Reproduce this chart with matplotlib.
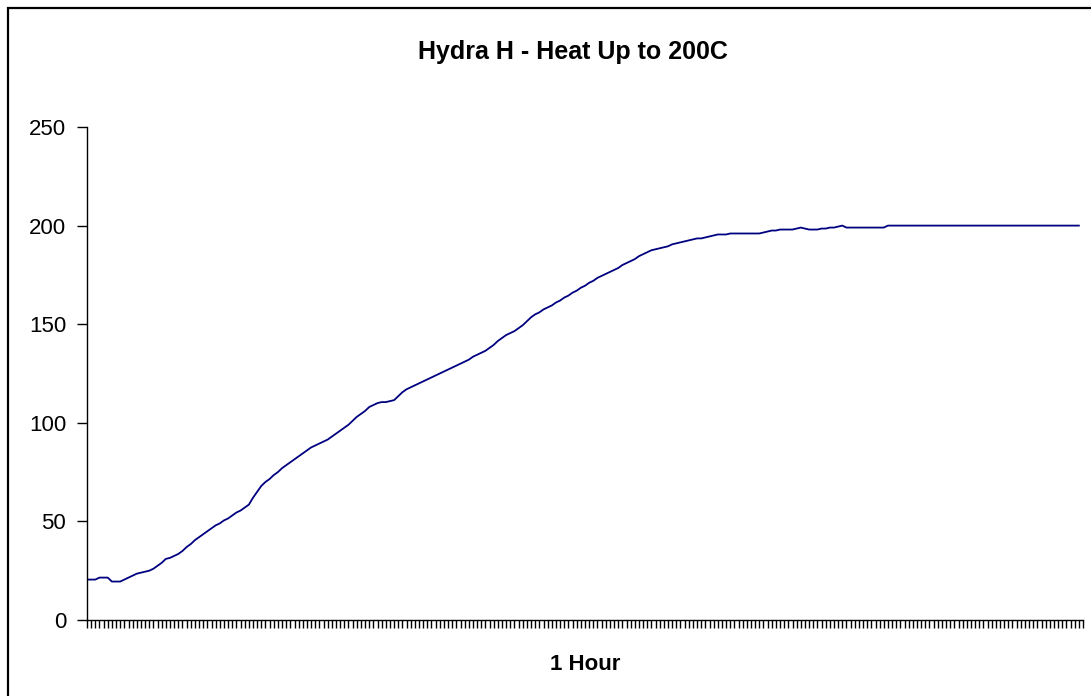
import matplotlib.pyplot as plt
from matplotlib.patches import Rectangle
import numpy as np

# temperature readings (deg C), one per sample
temps = [
    20.5, 20.5, 20.5, 21.5, 21.5, 21.5, 19.5, 19.5, 19.5, 20.5,
    21.5, 22.5, 23.5, 24, 24.5, 25, 26, 27.5, 29, 31,
    31.5, 32.5, 33.5, 35, 37, 38.5, 40.5, 42, 43.5, 45,
    46.5, 48, 49, 50.5, 51.5, 53, 54.5, 55.5, 57, 58.5,
    62, 65, 68, 70, 71.5, 73.5, 75, 77, 78.5, 80,
    81.5, 83, 84.5, 86, 87.5, 88.5, 89.5, 90.5, 91.5, 93,
    94.5, 96, 97.5, 99, 101, 103, 104.5, 106, 108, 109,
    110, 110.5, 110.5, 111, 111.5, 113.5, 115.5, 117, 118, 119,
    120, 121, 122, 123, 124, 125, 126, 127, 128, 129,
    130, 131, 132, 133.5, 134.5, 135.5, 136.5, 138, 139.5, 141.5,
    143, 144.5, 145.5, 146.5, 148, 149.5, 151.5, 153.5, 155, 156,
    157.5, 158.5, 159.5, 161, 162, 163.5, 164.5, 166, 167, 168.5,
    169.5, 171, 172, 173.5, 174.5, 175.5, 176.5, 177.5, 178.5, 180,
    181, 182, 183, 184.5, 185.5, 186.5, 187.5, 188, 188.5, 189,
    189.5, 190.5, 191, 191.5, 192, 192.5, 193, 193.5, 193.5, 194,
    194.5, 195, 195.5, 195.5, 195.5, 196, 196, 196, 196, 196,
    196, 196, 196, 196.5, 197, 197.5, 197.5, 198, 198, 198,
    198, 198.5, 199, 198.5, 198, 198, 198, 198.5, 198.5, 199,
    199, 199.5, 200, 199, 199, 199, 199, 199, 199, 199,
    199, 199, 199, 200, 200, 200, 200, 200, 200, 200,
    200, 200, 200, 200, 200, 200, 200, 200, 200, 200,
    200, 200, 200, 200, 200, 200, 200, 200, 200, 200,
    200, 200, 200, 200, 200, 200, 200, 200, 200, 200,
    200, 200, 200, 200, 200, 200, 200, 200, 200, 200,
]
y_ticks = [0, 50, 100, 150, 200, 250]

plt.rcParams['font.family'] = ['Liberation Sans', 'DejaVu Sans']

fig = plt.figure(figsize=(10.91, 6.96), dpi=100)
ax = fig.add_axes([87 / 1091, 76 / 696, 996 / 1091, 493 / 696])

x = np.arange(len(temps))
ax.plot(x, temps, color='#000080', lw=1.3)

ax.set_xlim(0, len(temps))
ax.set_ylim(0, 250)
ax.set_yticks(y_ticks)
ax.set_xticks(np.arange(len(temps) + 1))
ax.set_xticklabels([])
ax.tick_params(axis='y', labelsize=16, length=7, width=1, pad=8)
ax.tick_params(axis='x', length=6, width=1)

for s in ['top', 'right']:
    ax.spines[s].set_visible(False)
for s in ['left', 'bottom']:
    ax.spines[s].set_linewidth(1)

ax.set_xlabel('1 Hour', fontsize=16, fontweight='bold', labelpad=15)
fig.text(573 / 1091, 1 - 52 / 696, 'Hydra H - Heat Up to 200C', ha='center', va='center',
         fontsize=18, fontweight='bold')

# chart frame, running off the right and bottom edges like the original
fig.patches.append(Rectangle((8 / 1091, -0.1), 1.2, 1 - 8 / 696 + 0.1,
                             transform=fig.transFigure, fill=False,
                             edgecolor='black', lw=1.6))

fig.savefig('out.png', dpi=100)
